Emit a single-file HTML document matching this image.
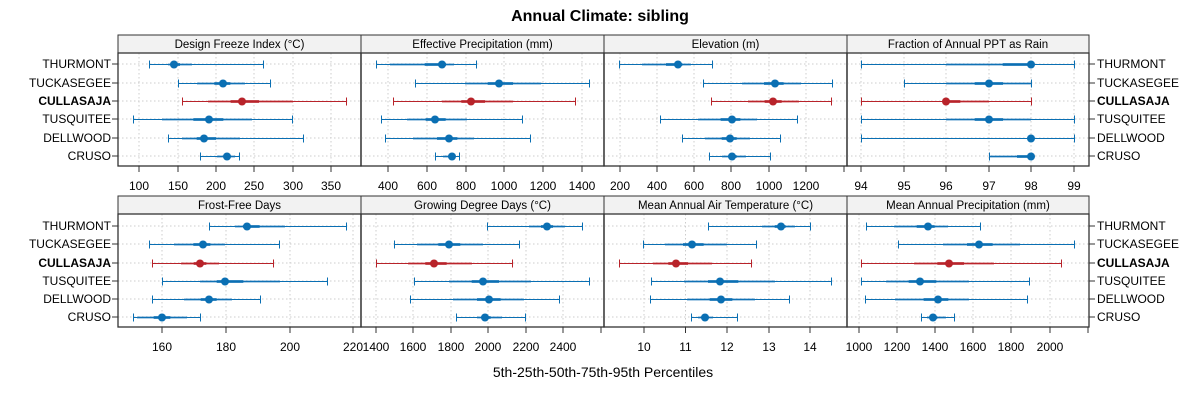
<!DOCTYPE html>
<html><head><meta charset="utf-8"><style>
html,body{margin:0;padding:0;background:#fff;}
svg{display:block;font-family:"Liberation Sans",sans-serif;}
</style></head><body>
<svg id="c" width="1200" height="400" xmlns="http://www.w3.org/2000/svg">
<text x="600" y="21" text-anchor="middle" font-size="16" font-weight="bold">Annual Climate: sibling</text>
<text x="603" y="377" text-anchor="middle" font-size="14">5th-25th-50th-75th-95th Percentiles</text>
</svg>
<script>
var names=["THURMONT","TUCKASEGEE","CULLASAJA","TUSQUITEE","DELLWOOD","CRUSO"];
var panels=[
{t:"Design Freeze Index (°C)",x0:118,x1:361,r:0,ticks:[[139,"100"],[178,"150"],[216,"200"],[254,"250"],[293,"300"],[331,"350"]],
d:[[149,168,174,192,263],[178,197,223,245,270],[182,208,242,293,346],[133,162,209,252,292],[168,182,204,240,303],[200,217,227,235,239]]},
{t:"Effective Precipitation (mm)",x0:361,x1:604,r:0,ticks:[[388,"400"],[427,"600"],[466,"800"],[504,"1000"],[543,"1200"],[582,"1400"]],
d:[[376,390,442,454,476],[415,465,499,541,589],[393,442,471,513,575],[381,407,435,467,522],[385,413,449,474,530],[435,443,452,455,459]]},
{t:"Elevation (m)",x0:604,x1:847,r:0,ticks:[[620,"200"],[657,"400"],[694,"600"],[731,"800"],[769,"1000"],[806,"1200"],[844,""]],
d:[[619,642,678,691,712],[703,742,775,801,832],[711,748,773,799,831],[660,698,732,757,797],[682,705,730,750,780],[709,722,732,746,770]]},
{t:"Fraction of Annual PPT as Rain",x0:847,x1:1089,r:0,ticks:[[861,"94"],[904,"95"],[946,"96"],[989,"97"],[1031,"98"],[1074,"99"]],
d:[[861,946,1031,1031,1074],[904,946,989,1031,1031],[861,946,946,989,1031],[861,946,989,1031,1074],[861,1031,1031,1031,1074],[989,989,1031,1031,1031]]},
{t:"Frost-Free Days",x0:118,x1:361,r:1,ticks:[[162,"160"],[226,"180"],[290,"200"],[353,"220"]],
d:[[209,235,247,285,346],[149,174,203,225,279],[152,181,200,219,273],[162,200,225,280,327],[152,184,209,232,260],[133,137,162,187,200]]},
{t:"Growing Degree Days (°C)",x0:361,x1:604,r:1,ticks:[[376,"1400"],[413,"1600"],[451,"1800"],[488,"2000"],[526,"2200"],[563,"2400"],[601,""]],
d:[[487,529,547,565,582],[394,417,449,483,519],[376,408,434,472,512],[414,449,483,531,589],[410,453,489,524,559],[456,477,485,502,525]]},
{t:"Mean Annual Air Temperature (°C)",x0:604,x1:847,r:1,ticks:[[644,"10"],[685.5,"11"],[727,"12"],[769,"13"],[810,"14"],[601,""]],
d:[[708,762,781,795,810],[643,665,692,727,756],[619,653,676,712,751],[651,684,720,775,831],[650,687,721,755,789],[691,698,705,713,737]]},
{t:"Mean Annual Precipitation (mm)",x0:847,x1:1089,r:1,ticks:[[859,"1000"],[897,"1200"],[935,"1400"],[973,"1600"],[1011,"1800"],[1050,"2000"],[1088,""]],
d:[[866,894,928,948,980],[898,943,979,1020,1074],[861,914,949,994,1061],[861,886,920,969,1029],[865,895,938,969,1027],[921,927,933,946,954]]}
];
var rows=[{s:35,p:53,b:166,ys:[64,83,101,119,138,156],ly:190},{s:196,p:214,b:327,ys:[226,244,263,281,299,317],ly:351}];
var o="";
panels.forEach(function(P){
 var R=rows[P.r];
 o+='<rect x="'+P.x0+'" y="'+R.s+'" width="'+(P.x1-P.x0)+'" height="'+(R.p-R.s)+'" fill="#f2f2f2" stroke="#333" stroke-width="1"/>';
 o+='<text x="'+((P.x0+P.x1)/2)+'" y="'+(R.p-5)+'" text-anchor="middle" font-size="11.5">'+P.t+'</text>';
 P.ticks.forEach(function(t){
  if(t[1]!=="") o+='<line x1="'+t[0]+'" x2="'+t[0]+'" y1="'+R.p+'" y2="'+R.b+'" stroke="#ccc" stroke-dasharray="1.5,2.5"/>';
  o+='<line x1="'+t[0]+'" x2="'+t[0]+'" y1="'+R.b+'" y2="'+(R.b+6)+'" stroke="#333"/>';
  if(t[1]!=="") o+='<text x="'+t[0]+'" y="'+R.ly+'" text-anchor="middle" font-size="12">'+t[1]+'</text>';
 });
 R.ys.forEach(function(y){o+='<line x1="'+P.x0+'" x2="'+P.x1+'" y1="'+y+'" y2="'+y+'" stroke="#ccc" stroke-dasharray="1.5,2.5"/>';});
 P.d.forEach(function(v,i){
  var y=R.ys[i]+0.5,red=(i==2),c=red?"#b8232a":"#0a6fb3",cl=red?"rgba(192,39,45,0.35)":"rgba(27,117,187,0.35)";
  o+='<line x1="'+v[0]+'" x2="'+v[4]+'" y1="'+y+'" y2="'+y+'" stroke="'+c+'" stroke-width="1"/>';
  o+='<line x1="'+(v[0]+0.5)+'" x2="'+(v[0]+0.5)+'" y1="'+(y-4)+'" y2="'+(y+4)+'" stroke="'+c+'"/>';
  o+='<line x1="'+(v[4]+0.5)+'" x2="'+(v[4]+0.5)+'" y1="'+(y-4)+'" y2="'+(y+4)+'" stroke="'+c+'"/>';
  o+='<line x1="'+v[1]+'" x2="'+v[3]+'" y1="'+y+'" y2="'+y+'" stroke="'+cl+'" stroke-width="3"/>';
  o+='<line x1="'+((2*v[2]+v[1])/3)+'" x2="'+((2*v[2]+v[3])/3)+'" y1="'+y+'" y2="'+y+'" stroke="'+c+'" stroke-width="2.5"/>';
  o+='<circle cx="'+v[2]+'" cy="'+y+'" r="4" fill="'+c+'"/>';
 });
 o+='<rect x="'+P.x0+'" y="'+R.p+'" width="'+(P.x1-P.x0)+'" height="'+(R.b-R.p)+'" fill="none" stroke="#333" stroke-width="1.3"/>';
});
rows.forEach(function(R){
 R.ys.forEach(function(y,i){
  var b=(i==2)?' font-weight="bold"':'';
  o+='<line x1="112" x2="118" y1="'+y+'" y2="'+y+'" stroke="#333"/>';
  o+='<line x1="1089" x2="1095" y1="'+y+'" y2="'+y+'" stroke="#333"/>';
  o+='<text x="111" y="'+(y+4)+'" text-anchor="end" font-size="12"'+b+'>'+names[i]+'</text>';
  o+='<text x="1097" y="'+(y+4)+'" font-size="12"'+b+'>'+names[i]+'</text>';
 });
});
document.getElementById("c").insertAdjacentHTML("beforeend",o);
</script>
</body></html>
